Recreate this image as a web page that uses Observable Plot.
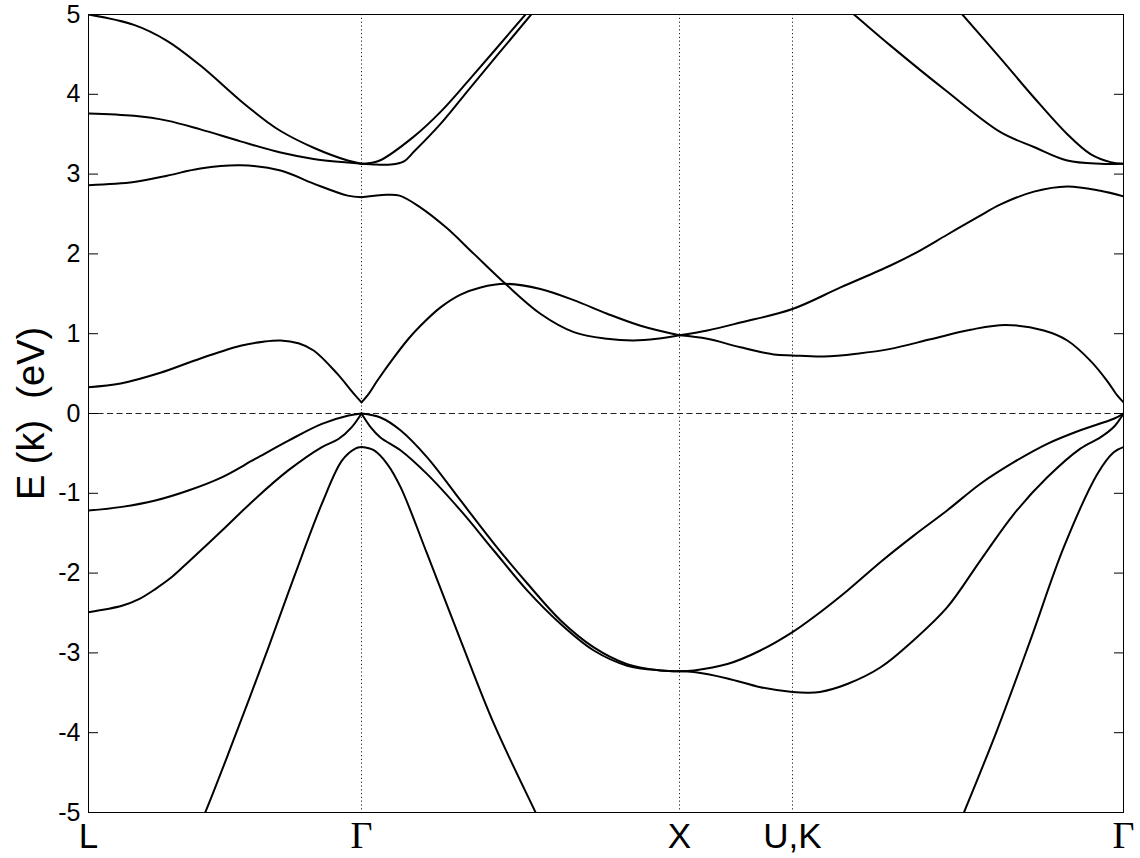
<!DOCTYPE html>
<html>
<head>
<meta charset="utf-8">
<script src="https://cdn.jsdelivr.net/npm/d3@7"></script>
<script src="https://cdn.jsdelivr.net/npm/@observablehq/plot@0.6"></script>
<style>
  html, body { margin: 0; padding: 0; background: #fff; }
  #chart svg { display: block; }
</style>
</head>
<body>
<div id="chart"></div>
<script>
// High-symmetry points along the path L–Γ–X–U,K–Γ (k in units of 2π/a)
const kLabels = ["L", "Γ", "X", "U,K", "Γ"];
const kPos = [0, 0.8585, 1.8585, 2.2138, 3.2547];
const yTicks = [-5, -4, -3, -2, -1, 0, 1, 2, 3, 4, 5];
const yTitle = "E (k)  (eV)";

// Bands on each branch of the path, as [k, E (eV)] pairs
const bandsLG = [
  [[0.336,-5.28],[0.367,-5.0],[0.440,-4.26],[0.566,-2.93],[0.650,-2.01],[0.734,-1.13],[0.797,-0.59],[0.839,-0.44],[0.8585,-0.42]],
  [[0,-2.49],[0.105,-2.41],[0.157,-2.33],[0.210,-2.20],[0.262,-2.05],[0.314,-1.86],[0.419,-1.47],[0.524,-1.07],[0.629,-0.71],[0.734,-0.42],[0.786,-0.32],[0.828,-0.17],[0.8585,0]],
  [[0,-1.215],[0.105,-1.17],[0.210,-1.09],[0.314,-0.965],[0.419,-0.80],[0.524,-0.57],[0.629,-0.34],[0.734,-0.13],[0.818,-0.025],[0.8585,0]],
  [[0,0.33],[0.101,0.376],[0.226,0.51],[0.352,0.69],[0.478,0.85],[0.55,0.90],[0.604,0.915],[0.66,0.88],[0.708,0.79],[0.782,0.50],[0.834,0.25],[0.8585,0.14]],
  [[0,2.86],[0.143,2.90],[0.247,2.98],[0.352,3.07],[0.478,3.11],[0.604,3.045],[0.708,2.88],[0.815,2.73],[0.8585,2.71]],
  [[0,3.76],[0.143,3.73],[0.247,3.67],[0.352,3.56],[0.478,3.41],[0.604,3.27],[0.708,3.19],[0.815,3.145],[0.8585,3.13]],
  [[0,5.0],[0.143,4.87],[0.247,4.67],[0.352,4.36],[0.478,3.92],[0.56,3.66],[0.604,3.54],[0.708,3.33],[0.815,3.17],[0.8585,3.13]]
];

const bandsGX = [
  [[0.8585,-0.42],[0.897,-0.46],[0.939,-0.63],[0.981,-0.92],[1.065,-1.76],[1.170,-2.84],[1.275,-3.89],[1.406,-5.0],[1.437,-5.26]],
  [[0.8585,0],[0.887,-0.17],[0.918,-0.30],[0.981,-0.46],[1.065,-0.76],[1.170,-1.215],[1.275,-1.72],[1.380,-2.22],[1.484,-2.635],[1.589,-2.97],[1.694,-3.16],[1.799,-3.22],[1.8585,-3.23]],
  [[0.8585,0],[0.918,-0.05],[0.981,-0.21],[1.065,-0.55],[1.170,-1.09],[1.275,-1.63],[1.380,-2.13],[1.484,-2.59],[1.589,-2.93],[1.694,-3.14],[1.799,-3.22],[1.8585,-3.23]],
  [[0.8585,0.14],[0.88,0.24],[0.908,0.41],[0.960,0.70],[1.007,0.94],[1.044,1.10],[1.107,1.33],[1.170,1.49],[1.233,1.58],[1.311,1.625],[1.421,1.56],[1.526,1.42],[1.631,1.25],[1.736,1.10],[1.8585,0.98]],
  [[0.8585,2.71],[0.937,2.74],[0.978,2.73],[1.041,2.59],[1.125,2.33],[1.212,2.00],[1.311,1.625],[1.421,1.25],[1.526,1.02],[1.631,0.936],[1.714,0.915],[1.788,0.936],[1.8585,0.98]],
  [[0.8585,3.13],[0.905,3.12],[0.950,3.12],[0.992,3.16],[1.023,3.28],[1.107,3.63],[1.201,4.085],[1.392,5.0],[1.437,5.22]],
  [[0.8585,3.13],[0.885,3.14],[0.916,3.17],[1.020,3.46],[1.107,3.78],[1.201,4.20],[1.374,5.0],[1.421,5.22]]
];

// X → U,K → Γ, each band running straight through U,K
const bandsXG = [
  [[2.726,-5.26],[2.753,-5.0],[2.857,-3.97],[2.962,-2.84],[3.067,-1.675],[3.172,-0.76],[3.224,-0.485],[3.2547,-0.42]],
  [[1.8585,-3.23],[1.904,-3.24],[2.009,-3.32],[2.113,-3.43],[2.2138,-3.49],[2.262,-3.50],[2.30,-3.49],[2.386,-3.39],[2.491,-3.18],[2.595,-2.84],[2.700,-2.43],[2.805,-1.84],[2.910,-1.26],[3.015,-0.80],[3.119,-0.44],[3.182,-0.30],[3.224,-0.17],[3.2547,0]],
  [[1.8585,-3.23],[1.904,-3.22],[2.009,-3.14],[2.113,-2.97],[2.2138,-2.74],[2.281,-2.55],[2.386,-2.22],[2.491,-1.86],[2.595,-1.53],[2.700,-1.215],[2.805,-0.88],[2.910,-0.61],[3.015,-0.38],[3.119,-0.21],[3.224,-0.066],[3.2547,0]],
  [[1.8585,0.98],[1.946,1.04],[2.050,1.14],[2.2138,1.31],[2.365,1.58],[2.522,1.855],[2.60,2.01],[2.70,2.24],[2.80,2.47],[2.868,2.62],[2.973,2.78],[3.078,2.845],[3.182,2.79],[3.2547,2.72]],
  [[1.8585,0.98],[1.946,0.936],[2.050,0.83],[2.155,0.74],[2.2138,0.727],[2.312,0.714],[2.417,0.75],[2.522,0.81],[2.648,0.93],[2.774,1.05],[2.884,1.11],[3.004,1.04],[3.078,0.915],[3.151,0.66],[3.203,0.41],[3.235,0.226],[3.2547,0.14]],
  [[2.302,5.35],[2.407,5.0],[2.522,4.61],[2.695,4.05],[2.868,3.525],[2.973,3.34],[3.078,3.17],[3.182,3.13],[3.2547,3.13]],
  [[2.679,5.32],[2.748,5.0],[2.868,4.45],[2.973,3.96],[3.078,3.50],[3.151,3.25],[3.214,3.15],[3.2547,3.13]]
];

// Flatten into one table: each band piece gets its own id for the line z channel
const rows = [];
[["LG", bandsLG], ["GX", bandsGX], ["XG", bandsXG]].forEach(([seg, bands]) => {
  bands.forEach((pts, b) => pts.forEach(([k, E]) => rows.push({id: `${seg}-${b}`, k, E})));
});

const symPoints = kPos.map((k, i) => ({k, name: kLabels[i]}));
const innerPoints = symPoints.slice(1, -1);
const greek = symPoints.filter(d => d.name === "Γ");
const latin = symPoints.filter(d => d.name !== "Γ");

const sans = "'Liberation Sans', Arial, Helvetica, sans-serif";

const chart = Plot.plot({
  width: 1140,
  height: 858,
  marginLeft: 88,
  marginRight: 17,
  marginTop: 14,
  marginBottom: 46,
  style: {fontFamily: sans, background: "#fff", color: "#000"},
  x: {domain: [kPos[0], kPos[kPos.length - 1]], axis: null},
  y: {domain: [-5, 5], axis: null},
  marks: [
    // vertical guides at the interior symmetry points
    Plot.ruleX(innerPoints, {x: "k", stroke: "#222", strokeWidth: 1, strokeDasharray: "1.2,2.6"}),
    // Fermi level
    Plot.ruleY([0], {stroke: "#222", strokeWidth: 1, strokeDasharray: "6,3.5"}),
    // bands
    Plot.line(rows, {
      x: "k", y: "E", z: "id",
      curve: "catmull-rom",
      stroke: "#000", strokeWidth: 2, strokeLinejoin: "round",
      clip: true
    }),
    Plot.frame({stroke: "#000", strokeWidth: 1}),
    // energy axis: inward ticks on both sides, labels on the left
    Plot.axisY(yTicks, {
      anchor: "left", tickSize: -10, tickPadding: 18,
      tickFormat: d => String(d), fontSize: 25, label: null
    }),
    Plot.axisY(yTicks, {
      anchor: "right", tickSize: -10, tickFormat: () => "", label: null
    }),
    // symmetry-point labels
    Plot.text(latin, {
      x: "k", text: "name", frameAnchor: "bottom", dy: 24,
      fontSize: 35, fontFamily: sans, lineAnchor: "middle", fill: "#000"
    }),
    Plot.text(greek, {
      x: "k", text: "name", frameAnchor: "bottom", dy: 23,
      fontSize: 38, fontFamily: "'Liberation Serif', 'Times New Roman', serif", lineAnchor: "middle", fill: "#000"
    }),
    // energy axis title
    Plot.text([yTitle], {
      frameAnchor: "left", dx: -57, rotate: -90, textAnchor: "middle",
      fontSize: 38, fontFamily: sans, fill: "#000"
    })
  ]
});

document.getElementById("chart").appendChild(chart);
</script>
</body>
</html>
